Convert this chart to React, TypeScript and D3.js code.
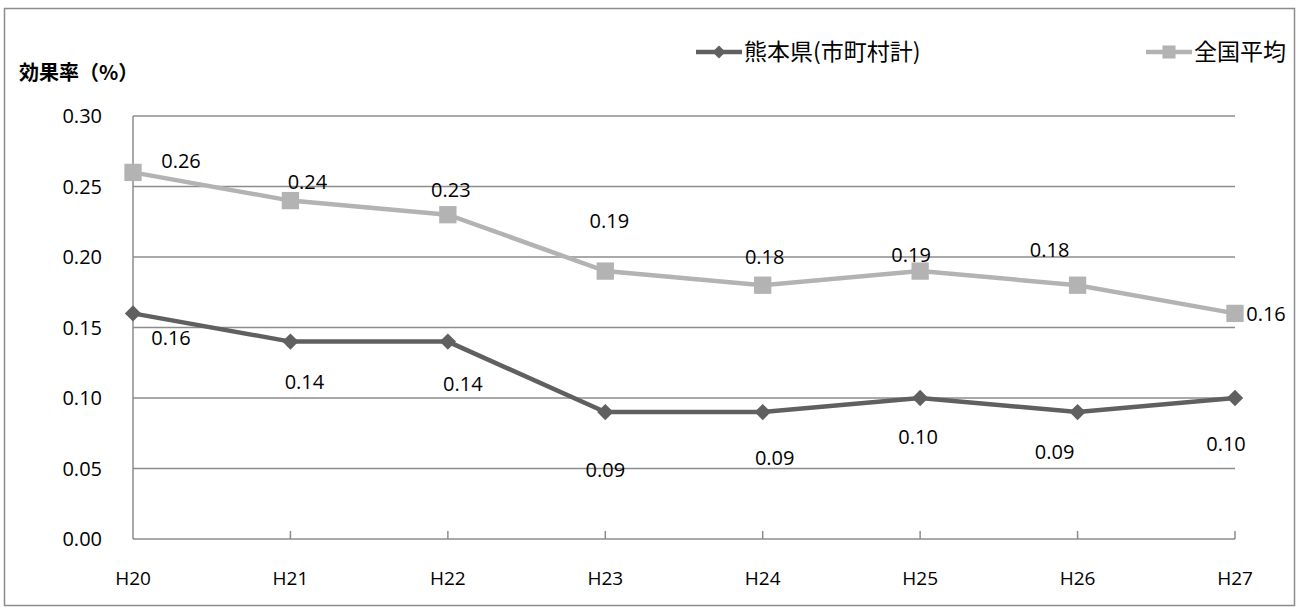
import React, { useEffect, useRef } from "react";
import { select, scaleLinear, scalePoint, line, symbol, symbolDiamond2, symbolSquare } from "d3";

const years = ["H20", "H21", "H22", "H23", "H24", "H25", "H26", "H27"];
const kumamoto = [0.16, 0.14, 0.14, 0.09, 0.09, 0.1, 0.09, 0.1];
const national = [0.26, 0.24, 0.23, 0.19, 0.18, 0.19, 0.18, 0.16];
const yTicks = [0, 0.05, 0.1, 0.15, 0.2, 0.25, 0.3];

// label offsets relative to point (px)
const kumaOff = [[38, 25], [14, 40], [15, 42], [0, 58], [12, 46], [-2, 39], [-23, 40], [-9, 46]];
const natOff = [[48, -11], [17, -19], [3, -25], [4, -50], [2, -28], [-9, -16], [-28, -35], [31, 1]];

const DARK = "#606060";
const LIGHT = "#b3b3b3";
const FONT = "'Open Sans', 'Noto Sans CJK JP', sans-serif";
const CJK = "'Noto Sans CJK JP', sans-serif";

export default function App() {
  const svgRef = useRef<SVGSVGElement>(null);

  useEffect(() => {
    const svg = select(svgRef.current!);
    svg.selectAll("*").remove();
    const x = scalePoint().domain(years).range([133, 1235]);
    const y = scaleLinear().domain([0, 0.3]).range([539, 116]);

    svg.append("rect").attr("x", 4.5).attr("y", 8.5).attr("width", 1290).attr("height", 597)
      .attr("fill", "white").attr("stroke", "#8c8c8c").attr("stroke-width", 1.5);

    // gridlines
    svg.selectAll(".grid").data(yTicks).join("line")
      .attr("x1", 133).attr("x2", 1235)
      .attr("y1", (d) => y(d)).attr("y2", (d) => y(d))
      .attr("stroke", "#8c8c8c").attr("stroke-width", 1.5);
    svg.append("line").attr("x1", 133).attr("x2", 133).attr("y1", y(0.3)).attr("y2", y(0))
      .attr("stroke", "#8c8c8c").attr("stroke-width", 1.5);
    svg.selectAll(".xt").data(years.slice(1)).join("line")
      .attr("x1", (d) => x(d)!).attr("x2", (d) => x(d)!)
      .attr("y1", y(0)).attr("y2", y(0) - 8)
      .attr("stroke", "#8c8c8c").attr("stroke-width", 1.5);

    svg.selectAll(".yl").data(yTicks).join("text")
      .attr("x", 102).attr("y", (d) => y(d) + 7).attr("text-anchor", "end")
      .attr("font-family", FONT).attr("font-size", 20).text((d) => d.toFixed(2));
    svg.selectAll(".xl").data(years).join("text")
      .attr("x", (d) => x(d)!).attr("y", 585).attr("text-anchor", "middle")
      .attr("font-family", FONT).attr("font-size", 19).text((d) => d);

    svg.append("text").attr("x", 19).attr("y", 80).attr("font-family", CJK)
      .attr("font-size", 20).attr("font-weight", "bold").text("効果率（%）");

    const series = [
      { vals: national, color: LIGHT, sym: symbolSquare, size: 300, off: natOff },
      { vals: kumamoto, color: DARK, sym: symbolDiamond2, size: 170, off: kumaOff },
    ];
    const gen = line<number>().x((_, i) => x(years[i])!).y((d) => y(d));
    series.forEach((s) => {
      svg.append("path").attr("d", gen(s.vals)).attr("fill", "none")
        .attr("stroke", s.color).attr("stroke-width", 4.5);
      svg.append("g").selectAll("path").data(s.vals).join("path")
        .attr("transform", (d, i) => `translate(${x(years[i])},${y(d)})`)
        .attr("d", symbol(s.sym, s.size)()).attr("fill", s.color);
      svg.append("g").selectAll("text").data(s.vals).join("text")
        .attr("x", (d, i) => x(years[i])! + s.off[i][0])
        .attr("y", (d, i) => y(d) + s.off[i][1] + 7)
        .attr("text-anchor", "middle").attr("font-family", FONT).attr("font-size", 20)
        .text((d) => d.toFixed(2));
    });

    // legend
    const legend = [
      { label: "熊本県(市町村計)", color: DARK, sym: symbolDiamond2, size: 110, x: 696 },
      { label: "全国平均", color: LIGHT, sym: symbolSquare, size: 170, x: 1146 },
    ];
    legend.forEach((l) => {
      svg.append("line").attr("x1", l.x).attr("x2", l.x + 46).attr("y1", 52).attr("y2", 52)
        .attr("stroke", l.color).attr("stroke-width", 4.5);
      svg.append("path").attr("transform", `translate(${l.x + 23},52)`)
        .attr("d", symbol(l.sym, l.size)()).attr("fill", l.color);
      svg.append("text").attr("x", l.x + 48).attr("y", 60).attr("font-family", CJK)
        .attr("font-size", 23).text(l.label);
    });
  }, []);

  return (
    <svg ref={svgRef} width={1299} height={610}
      style={{ position: "absolute", left: 0, top: 0, background: "white" }} />
  );
}
